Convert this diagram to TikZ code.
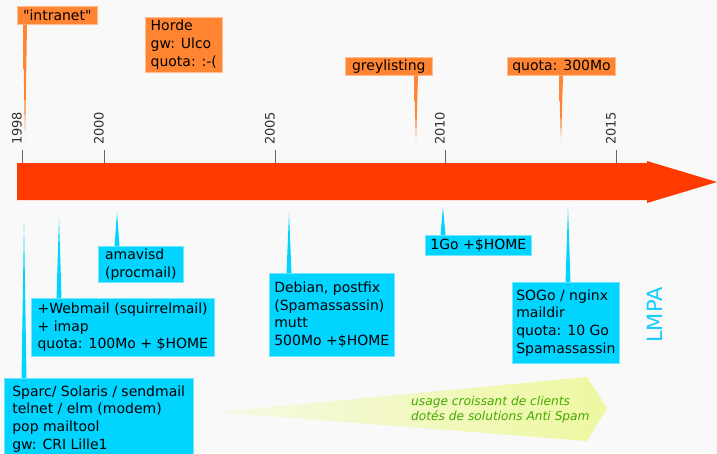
\documentclass[tikz,border=0pt]{standalone}
\usepackage{fontspec}
\setmainfont{DejaVu Sans}
\newfontfamily\rawfont{DejaVu Sans}
\usepackage{xcolor}
\usepackage{tikz}
\usetikzlibrary{calc}

\definecolor{bgcol}{RGB}{249,249,249}
\definecolor{barred}{RGB}{255,58,0}
\definecolor{calloutorange}{RGB}{255,133,51}
\definecolor{calloutcyan}{RGB}{0,212,255}
\definecolor{lmpacyan}{RGB}{20,204,255}
\definecolor{wedgeyellow}{RGB}{238,248,160}
\definecolor{wedgegreen}{RGB}{68,170,0}

\pgfdeclareverticalshading{orangefade}{100bp}{color(0bp)=(bgcol); color(25bp)=(bgcol); color(37bp)=(calloutorange); color(100bp)=(calloutorange)}

\begin{document}
\begin{tikzpicture}[
    x=1pt, y=-1pt,
    obox/.style={rectangle, draw=calloutorange!55!white, fill=calloutorange, line width=0.6pt, anchor=north west, align=left, inner xsep=5pt, inner ysep=0pt, font=\fontsize{14}{18}\selectfont},
    cbox/.style={rectangle, draw=calloutcyan!55!white, fill=calloutcyan, line width=0.6pt, anchor=north west, align=left, inner xsep=4pt, inner ysep=0pt, font=\fontsize{14}{17.7}\selectfont},
    yearlbl/.style={rotate=90, anchor=base west, inner sep=0pt, text=black!80, font=\fontsize{13}{13}\selectfont},
    yeartick/.style={draw=black!60, line width=0.9pt},
    optr/.style={shading=orangefade},
    cptr/.style={fill=calloutcyan}
]
    \fill[bgcol] (0,0) rectangle (717,453);
    \useasboundingbox (0,0) rectangle (717,453);

    % timeline
    \fill[barred] (17,163) -- (647,163) -- (647,161) -- (717,182) -- (647,203) -- (647,200) -- (17,200) -- cycle;
    \foreach \yr/\xx in {1998/22, 2000/104, 2005/275, 2010/445, 2015/616} {
        \draw[yeartick] (\xx,150) -- (\xx,163);
        \node[yearlbl] (y\yr) at (\xx-0.5,145) {\yr};
    }

    % above the line
    \node[obox, minimum width=80pt, minimum height=18pt] (intranet) at (17,6) {{\rawfont"intranet"}};
    \node[obox, minimum width=77pt, minimum height=55pt] (horde) at (145,17) {Horde\\gw: Ulco\\quota: :-(};
    \node[obox, minimum width=87pt, minimum height=18pt] (grey) at (345,57) {greylisting};
    \node[obox, minimum width=106pt, minimum height=18pt] (quota) at (507,57) {quota: 300Mo};

    \foreach \cb/\tx/\ty in {intranet/25/145, grey/416/145, quota/561/145} {
        \coordinate (tip) at (\tx,\ty);
        \shade[optr] ($(tip |- \cb.south)+(-2,0)$) -- ($(tip |- \cb.south)+(2,0)$) -- (tip) -- cycle;
    }

    % below the line
    \node[cbox, minimum width=85pt, minimum height=36pt] (amavisd) at (98,246) {amavisd\\(procmail)};
    \node[cbox, minimum width=183pt, minimum height=58pt] (webmail) at (31,298) {+Webmail (squirrelmail)\\+ imap\\quota: 100Mo + \$HOME};
    \node[cbox, minimum width=188pt, minimum height=81pt, inner xsep=8pt] (sparc) at (4,378) {Sparc/ Solaris / sendmail\\telnet / elm (modem)\\pop mailtool\\gw: CRI Lille1};
    \node[cbox, minimum width=125pt, minimum height=83pt] (debian) at (269,273) {Debian, postfix\\(Spamassassin)\\mutt\\500Mo +\$HOME};
    \node[cbox, minimum width=106pt, minimum height=20pt] (onego) at (425,235) {1Go +\$HOME};
    \node[cbox, minimum width=106pt, minimum height=81pt] (sogo) at (512,282) {SOGo / nginx\\maildir\\quota: 10 Go\\Spamassassin};

    \foreach \cb/\tx/\ty in {sparc/24/222, webmail/59/218, amavisd/117/212, debian/289/213, onego/443/207, sogo/568/207} {
        \coordinate (tip) at (\tx,\ty);
        \fill[cptr] ($(tip |- \cb.north)+(-2.5,0)$) -- ($(tip |- \cb.north)+(2.5,0)$) -- (tip) -- cycle;
    }

    \node[rotate=90, anchor=base west, inner sep=0pt, text=lmpacyan, font=\fontsize{21}{21}\selectfont] (lmpa) at (662,343) {LMPA};

    % trend
    \shade[left color=wedgeyellow!25!bgcol, right color=wedgeyellow] (217,412) -- (587,377) -- (607,408) -- (587,441) -- cycle;
    \node[anchor=west, align=left, inner sep=0pt, text=wedgegreen, font=\fontsize{12.2}{15}\selectfont\itshape] (trend) at (411,409.5) {usage croissant de clients\\dotés de solutions Anti Spam};
\end{tikzpicture}
\end{document}
